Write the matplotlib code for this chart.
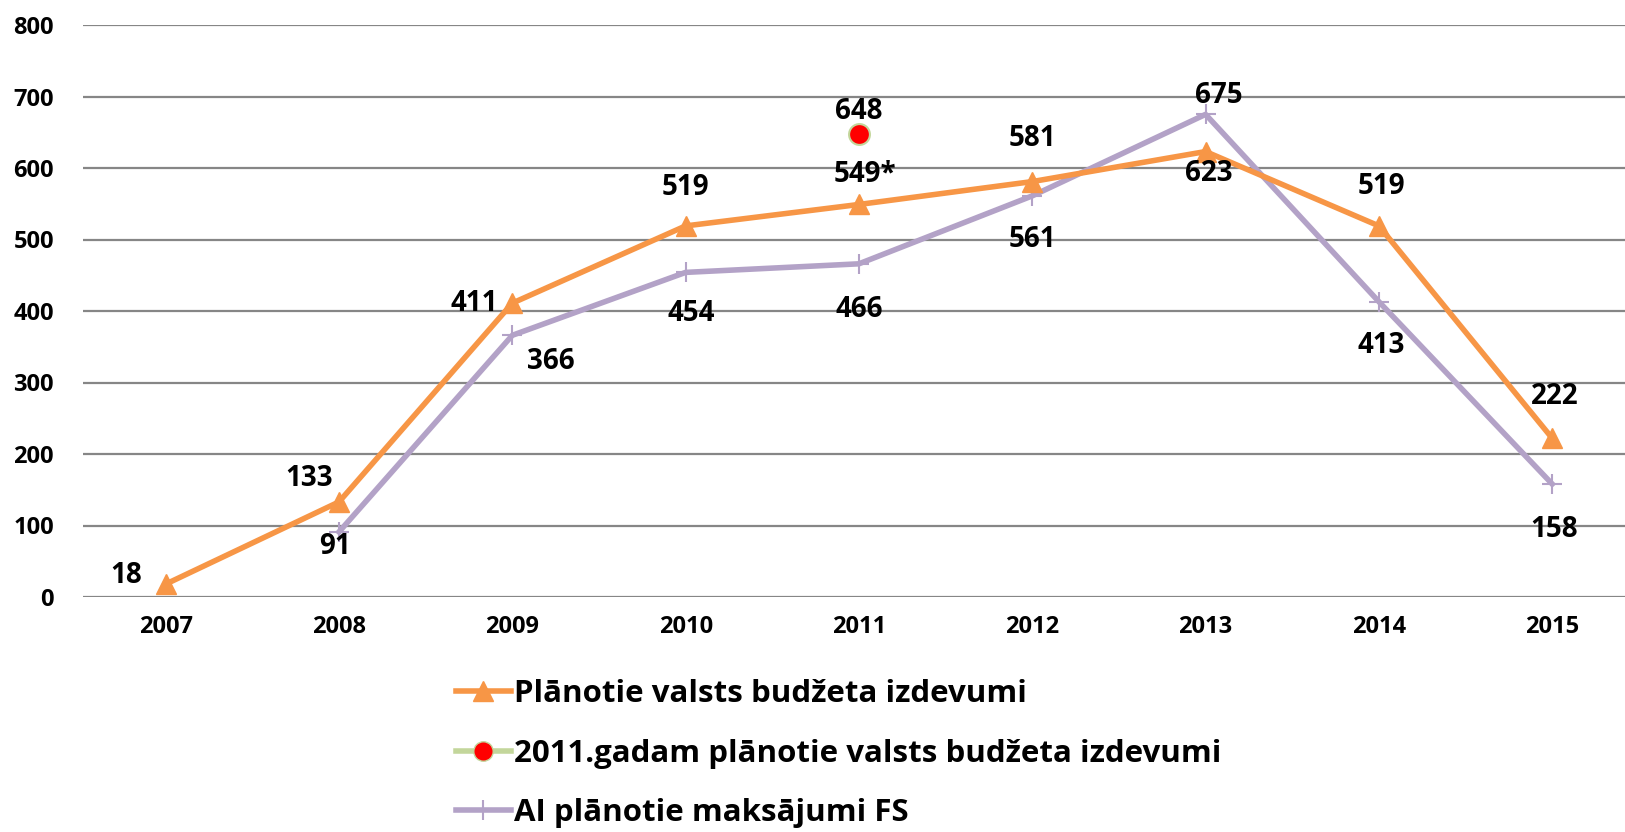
import matplotlib
matplotlib.use("Agg")
import matplotlib.pyplot as plt
from matplotlib.lines import Line2D
import numpy as np

years = ["2007", "2008", "2009", "2010", "2011", "2012", "2013", "2014", "2015"]
planned = [18, 133, 411, 519, 549, 581, 623, 519, 222]
planned_labels = ["18", "133", "411", "519", "549*", "581", "623", "519", "222"]
ai_years_idx = [1, 2, 3, 4, 5, 6, 7, 8]
ai_payments = [91, 366, 454, 466, 561, 675, 413, 158]
planned2011_idx = [4]
planned2011 = [648]

series_names = ["Plānotie valsts budžeta izdevumi",
                "2011.gadam plānotie valsts budžeta izdevumi",
                "AI plānotie maksājumi FS"]

ORANGE = "#F79646"
PURPLE = "#B3A2C7"
RED = "#FF0000"
GREEN = "#C3D69B"
FONT = "Open Sans"

fig = plt.figure(figsize=(16.25, 8.32), dpi=100)
ax = fig.add_axes([83/1625, 1-597/832, 1-83/1625, (597-25)/832])

x = np.arange(len(years))
ax.set_xlim(-0.477, 8.42)
ax.set_ylim(0, 800)
ax.set_yticks(range(0, 801, 100))
ax.grid(axis="y", color="#868686", linewidth=1.6)
ax.set_axisbelow(True)
for s in ax.spines.values():
    s.set_visible(False)
ax.tick_params(length=0)
ax.set_xticks(x)
ax.set_xticklabels(years)
ax.tick_params(axis="x", pad=13)
ax.tick_params(axis="y", pad=21)
for t in ax.get_yticklabels() + ax.get_xticklabels():
    t.set_fontsize(17)
    t.set_fontweight("bold")
    t.set_family(FONT)

l1, = ax.plot(x, planned, color=ORANGE, linewidth=4, marker="^", markersize=14,
              label=series_names[0], zorder=3)
l2, = ax.plot(np.array(ai_years_idx), ai_payments, color=PURPLE, linewidth=4, marker="+",
              markersize=14, markeredgewidth=1.5, label=series_names[2], zorder=2)
l3, = ax.plot(np.array(planned2011_idx), planned2011, color=GREEN, linewidth=4, linestyle="none",
              marker="o", markersize=15, markerfacecolor=RED, markeredgecolor=GREEN,
              markeredgewidth=1.5, label=series_names[1], zorder=4)

lab_font = dict(fontsize=20, fontweight="bold", family=FONT, color="black",
                ha="center", va="center")

planned_off = [(-38, 8), (-29, 23), (-37, 0), (0, 37), (6, 29), (0, 42), (3, -21), (2, 38), (2, 40)]
ai_off = [(-4, -14), (37, -25), (5, -40), (0, -44), (0, -42), (13, 18), (2, -42), (2, -44)]

for i, (v, lab) in enumerate(zip(planned, planned_labels)):
    ax.annotate(lab, (x[i], v), xytext=(planned_off[i][0]*1.036, planned_off[i][1]*1.036),
                textcoords="offset pixels", **lab_font)
for j, (i, v) in enumerate(zip(ai_years_idx, ai_payments)):
    ax.annotate(str(v), (x[i], v), xytext=(ai_off[j][0]*1.036, ai_off[j][1]*1.036),
                textcoords="offset pixels", **lab_font)
for i, v in zip(planned2011_idx, planned2011):
    ax.annotate(str(v), (x[i], v), xytext=(0, 21*1.036), textcoords="offset pixels", **lab_font)

h2 = Line2D([], [], color=GREEN, linewidth=4, marker="o", markersize=14,
            markerfacecolor=RED, markeredgecolor=GREEN)
leg = fig.legend([l1, h2, l2], series_names, loc="upper left",
                 bbox_to_anchor=(456/1625, 1-679/832), frameon=False,
                 prop=dict(family=FONT, weight="bold", size=22.5),
                 handlelength=1.75, handletextpad=0.1, labelspacing=0.95,
                 borderaxespad=0, borderpad=0)

fig.savefig("out.png", dpi=100)
